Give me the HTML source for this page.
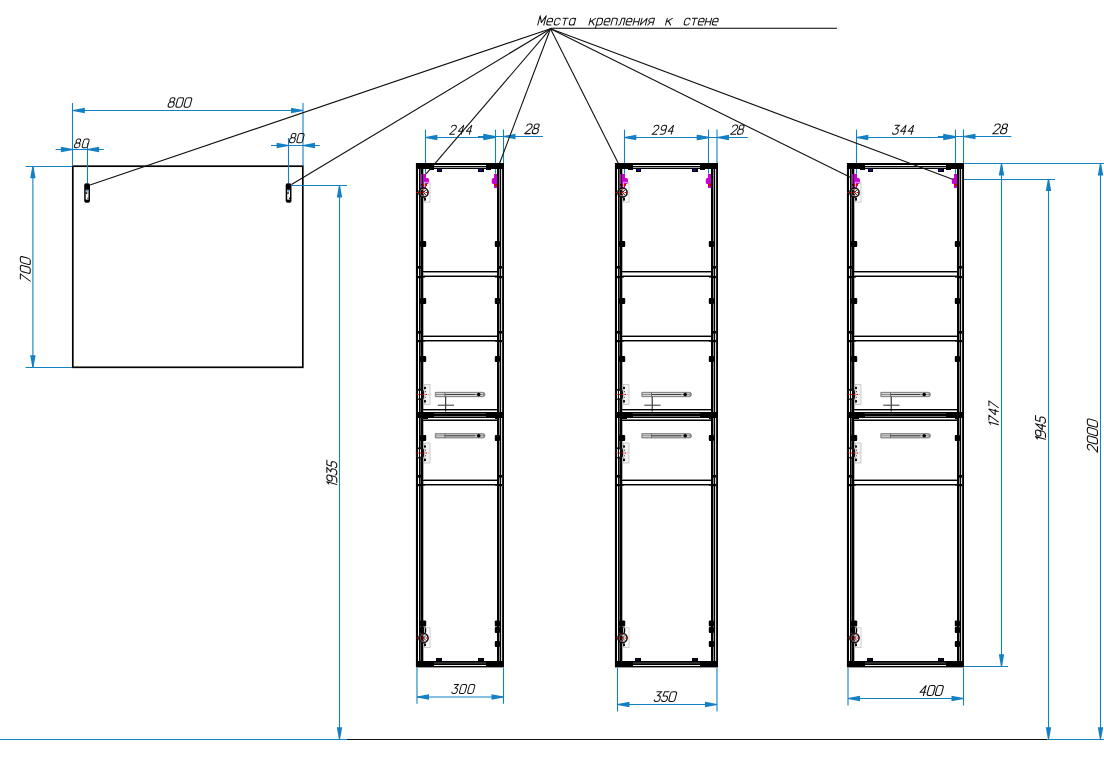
<!DOCTYPE html>
<html><head><meta charset="utf-8"><title>drawing</title>
<style>
html,body{margin:0;padding:0;background:#fff;width:1104px;height:762px;overflow:hidden}
svg{display:block}
.t{font-family:"Liberation Sans",sans-serif;font-style:italic;fill:#1a1a1a}
</style></head><body>
<svg width="1104" height="762" viewBox="0 0 1104 762">
<rect width="1104" height="762" fill="#fff"/>
<line x1="0.00" y1="739.50" x2="347.00" y2="739.50" stroke="#137fc4" stroke-width="1.1"/>
<line x1="347.00" y1="739.50" x2="1047.50" y2="739.50" stroke="#111" stroke-width="1.15"/>
<line x1="1047.50" y1="739.50" x2="1104.00" y2="739.50" stroke="#137fc4" stroke-width="1.1"/>
<rect x="72.8" y="166.2" width="230" height="201.1" fill="none" stroke="#000" stroke-width="1.7"/>
<rect x="84.20" y="183.2" width="5.8" height="19.5" rx="2" fill="#000"/>
<rect x="85.70" y="189.80" width="2.80" height="9.80" fill="#fff"/>
<rect x="86.10" y="190.00" width="1.80" height="1.60" fill="#3a9ad8"/>
<rect x="85.70" y="192.30" width="1.60" height="1.60" fill="#000"/>
<rect x="87.50" y="197.50" width="1.00" height="1.50" fill="#222"/>
<rect x="285.70" y="183.2" width="5.8" height="19.5" rx="2" fill="#000"/>
<rect x="287.20" y="189.80" width="2.80" height="9.80" fill="#fff"/>
<rect x="287.60" y="190.00" width="1.80" height="1.60" fill="#3a9ad8"/>
<rect x="287.20" y="192.30" width="1.60" height="1.60" fill="#000"/>
<rect x="289.00" y="197.50" width="1.00" height="1.50" fill="#222"/>
<line x1="72.50" y1="103.00" x2="72.50" y2="166.00" stroke="#137fc4" stroke-width="1.1"/>
<line x1="303.00" y1="103.00" x2="303.00" y2="166.00" stroke="#137fc4" stroke-width="1.1"/>
<line x1="72.90" y1="110.50" x2="303.00" y2="110.50" stroke="#137fc4" stroke-width="1.1"/>
<polygon points="72.90,109.95 72.90,111.05 84.90,113.20 84.90,107.80" fill="#137fc4"/>
<polygon points="303.00,109.95 303.00,111.05 291.00,113.20 291.00,107.80" fill="#137fc4"/>
<g transform="translate(167.62,107.15) scale(0.9500) skewX(-15)" fill="none" stroke="#111" stroke-width="1.1" stroke-linecap="round" stroke-linejoin="round"><path transform="translate(0.000,0)" d="M2.5,-5.4 H3.4000000000000004 A2.0,2.0 0 0 0 5.4,-7.4 V-8.0 A2.0,2.0 0 0 0 3.4000000000000004,-10 H2.5 A2.0,2.0 0 0 0 0.5,-8.0 V-7.4 A2.0,2.0 0 0 0 2.5,-5.4 Z M2.3,0 H3.6000000000000005 A2.3,2.3 0 0 0 5.9,-2.3 V-3.1000000000000005 A2.3,2.3 0 0 0 3.6000000000000005,-5.4 H2.3 A2.3,2.3 0 0 0 0,-3.1000000000000005 V-2.3 A2.3,2.3 0 0 0 2.3,0 Z"/><path transform="translate(8.334,0)" d="M1.9,0 H4.300000000000001 A1.9,1.9 0 0 0 6.2,-1.9 V-8.1 A1.9,1.9 0 0 0 4.300000000000001,-10 H1.9 A1.9,1.9 0 0 0 0,-8.1 V-1.9 A1.9,1.9 0 0 0 1.9,0 Z"/><path transform="translate(16.968,0)" d="M1.9,0 H4.300000000000001 A1.9,1.9 0 0 0 6.2,-1.9 V-8.1 A1.9,1.9 0 0 0 4.300000000000001,-10 H1.9 A1.9,1.9 0 0 0 0,-8.1 V-1.9 A1.9,1.9 0 0 0 1.9,0 Z"/></g>
<line x1="87.50" y1="143.00" x2="87.50" y2="183.00" stroke="#137fc4" stroke-width="1.1"/>
<line x1="55.60" y1="149.50" x2="103.80" y2="149.50" stroke="#137fc4" stroke-width="1.1"/>
<polygon points="72.90,148.95 72.90,150.05 60.90,152.20 60.90,146.80" fill="#137fc4"/>
<polygon points="87.10,148.95 87.10,150.05 99.10,152.20 99.10,146.80" fill="#137fc4"/>
<g transform="translate(73.98,147.75) scale(0.8700) skewX(-15)" fill="none" stroke="#111" stroke-width="1.1" stroke-linecap="round" stroke-linejoin="round"><path transform="translate(0.000,0)" d="M2.5,-5.4 H3.4000000000000004 A2.0,2.0 0 0 0 5.4,-7.4 V-8.0 A2.0,2.0 0 0 0 3.4000000000000004,-10 H2.5 A2.0,2.0 0 0 0 0.5,-8.0 V-7.4 A2.0,2.0 0 0 0 2.5,-5.4 Z M2.3,0 H3.6000000000000005 A2.3,2.3 0 0 0 5.9,-2.3 V-3.1000000000000005 A2.3,2.3 0 0 0 3.6000000000000005,-5.4 H2.3 A2.3,2.3 0 0 0 0,-3.1000000000000005 V-2.3 A2.3,2.3 0 0 0 2.3,0 Z"/><path transform="translate(8.987,0)" d="M1.9,0 H4.300000000000001 A1.9,1.9 0 0 0 6.2,-1.9 V-8.1 A1.9,1.9 0 0 0 4.300000000000001,-10 H1.9 A1.9,1.9 0 0 0 0,-8.1 V-1.9 A1.9,1.9 0 0 0 1.9,0 Z"/></g>
<line x1="288.50" y1="138.00" x2="288.50" y2="183.00" stroke="#137fc4" stroke-width="1.1"/>
<line x1="271.00" y1="145.50" x2="319.70" y2="145.50" stroke="#137fc4" stroke-width="1.1"/>
<polygon points="288.60,144.95 288.60,146.05 276.60,148.20 276.60,142.80" fill="#137fc4"/>
<polygon points="303.00,144.95 303.00,146.05 315.00,148.20 315.00,142.80" fill="#137fc4"/>
<g transform="translate(289.00,142.65) scale(0.9100) skewX(-15)" fill="none" stroke="#111" stroke-width="1.1" stroke-linecap="round" stroke-linejoin="round"><path transform="translate(0.000,0)" d="M2.5,-5.4 H3.4000000000000004 A2.0,2.0 0 0 0 5.4,-7.4 V-8.0 A2.0,2.0 0 0 0 3.4000000000000004,-10 H2.5 A2.0,2.0 0 0 0 0.5,-8.0 V-7.4 A2.0,2.0 0 0 0 2.5,-5.4 Z M2.3,0 H3.6000000000000005 A2.3,2.3 0 0 0 5.9,-2.3 V-3.1000000000000005 A2.3,2.3 0 0 0 3.6000000000000005,-5.4 H2.3 A2.3,2.3 0 0 0 0,-3.1000000000000005 V-2.3 A2.3,2.3 0 0 0 2.3,0 Z"/><path transform="translate(8.153,0)" d="M1.9,0 H4.300000000000001 A1.9,1.9 0 0 0 6.2,-1.9 V-8.1 A1.9,1.9 0 0 0 4.300000000000001,-10 H1.9 A1.9,1.9 0 0 0 0,-8.1 V-1.9 A1.9,1.9 0 0 0 1.9,0 Z"/></g>
<line x1="25.60" y1="166.50" x2="72.00" y2="166.50" stroke="#137fc4" stroke-width="1.1"/>
<line x1="25.60" y1="367.50" x2="72.00" y2="367.50" stroke="#137fc4" stroke-width="1.1"/>
<line x1="32.90" y1="166.20" x2="32.90" y2="367.30" stroke="#137fc4" stroke-width="1.1"/>
<polygon points="32.35,166.20 33.45,166.20 35.60,178.20 30.20,178.20" fill="#137fc4"/>
<polygon points="32.35,367.30 33.45,367.30 35.60,355.30 30.20,355.30" fill="#137fc4"/>
<g transform="translate(25.30,268.90) rotate(-90)"><g transform="translate(-12.76,4.95) scale(0.9900) skewX(-15)" fill="none" stroke="#111" stroke-width="1.1" stroke-linecap="round" stroke-linejoin="round"><path transform="translate(0.000,0)" d="M0,-10 H5.2 L0.6,0"/><path transform="translate(7.945,0)" d="M1.9,0 H4.300000000000001 A1.9,1.9 0 0 0 6.2,-1.9 V-8.1 A1.9,1.9 0 0 0 4.300000000000001,-10 H1.9 A1.9,1.9 0 0 0 0,-8.1 V-1.9 A1.9,1.9 0 0 0 1.9,0 Z"/><path transform="translate(16.890,0)" d="M1.9,0 H4.300000000000001 A1.9,1.9 0 0 0 6.2,-1.9 V-8.1 A1.9,1.9 0 0 0 4.300000000000001,-10 H1.9 A1.9,1.9 0 0 0 0,-8.1 V-1.9 A1.9,1.9 0 0 0 1.9,0 Z"/></g></g>
<line x1="292.00" y1="185.50" x2="347.00" y2="185.50" stroke="#137fc4" stroke-width="1.1"/>
<line x1="339.50" y1="185.60" x2="339.50" y2="739.30" stroke="#137fc4" stroke-width="1.1"/>
<polygon points="338.95,185.60 340.05,185.60 342.20,197.60 336.80,197.60" fill="#137fc4"/>
<polygon points="338.95,739.30 340.05,739.30 342.20,727.30 336.80,727.30" fill="#137fc4"/>
<g transform="translate(331.80,473.00) rotate(-90)"><g transform="translate(-13.01,4.95) scale(0.9900) skewX(-15)" fill="none" stroke="#111" stroke-width="1.1" stroke-linecap="round" stroke-linejoin="round"><path transform="translate(0.000,0)" d="M1.6,0 V-10 L-0.2,-8.2"/><path transform="translate(3.332,0)" d="M2.3,-4.6 H3.3 A2.3,2.3 0 0 0 5.6,-6.8999999999999995 V-7.7 A2.3,2.3 0 0 0 3.3,-10 H2.3 A2.3,2.3 0 0 0 0,-7.7 V-6.8999999999999995 A2.3,2.3 0 0 0 2.3,-4.6 Z M5.6,-7.0 V-2.3 A2.3,2.3 0 0 1 3.3,0 H0.4"/><path transform="translate(10.663,0)" d="M0.5,-10 H5.5 L2.2,-6.0 H3.3 A2.3,2.3 0 0 1 5.6,-3.7 V-2.3 A2.3,2.3 0 0 1 3.3,0 H2.1 A2.1,2.1 0 0 1 0,-1.6"/><path transform="translate(17.995,0)" d="M5.4,-10 H0.9 L0.5,-5.6 H3.3 A2.3,2.3 0 0 1 5.6,-3.3 V-2.3 A2.3,2.3 0 0 1 3.3,0 H2.1 A2.1,2.1 0 0 1 0,-1.6"/></g></g>
<line x1="425.50" y1="129.60" x2="425.50" y2="173.80" stroke="#137fc4" stroke-width="1.1"/>
<line x1="495.50" y1="129.60" x2="495.50" y2="173.80" stroke="#137fc4" stroke-width="1.1"/>
<line x1="503.5" y1="129.4" x2="503.5" y2="163.5" stroke="#137fc4" stroke-width="1.1"/>
<rect x="416.00" y="163.00" width="2.00" height="504.00" fill="#000"/>
<rect x="419.00" y="163.00" width="1.00" height="504.00" fill="#000"/>
<rect x="420.00" y="163.00" width="1.00" height="504.00" fill="#555"/>
<rect x="421.00" y="163.00" width="2.00" height="504.00" fill="#000"/>
<rect x="423.00" y="163.00" width="1.00" height="504.00" fill="#b0b0b0"/>
<rect x="497.00" y="163.00" width="2.00" height="504.00" fill="#000"/>
<rect x="499.00" y="163.00" width="1.00" height="504.00" fill="#8a8a8a"/>
<rect x="500.00" y="163.00" width="1.00" height="504.00" fill="#000"/>
<rect x="501.00" y="163.00" width="1.00" height="504.00" fill="#d8d8d8"/>
<rect x="502.00" y="163.00" width="1.00" height="504.00" fill="#222"/>
<rect x="503.00" y="163.00" width="1.00" height="504.00" fill="#000"/>
<rect x="415.00" y="163.00" width="1.00" height="504.00" fill="#e8e8e8"/>
<rect x="416.00" y="163.00" width="88.00" height="2.00" fill="#000"/>
<rect x="416.00" y="165.00" width="88.00" height="1.00" fill="#f4f4f4"/>
<rect x="416.00" y="166.00" width="88.00" height="1.00" fill="#000"/>
<rect x="416.00" y="167.00" width="88.00" height="1.00" fill="#a0a0a0"/>
<rect x="416.00" y="168.00" width="88.00" height="1.00" fill="#000"/>
<rect x="416.00" y="163.00" width="18.00" height="6.00" fill="#000"/>
<rect x="486.00" y="163.00" width="18.00" height="6.00" fill="#000"/>
<rect x="429.00" y="169.00" width="5.00" height="1.00" fill="#000"/>
<rect x="486.00" y="169.00" width="5.00" height="1.00" fill="#000"/>
<rect x="437.00" y="168.00" width="5.00" height="4.00" fill="#000"/>
<rect x="438.00" y="169.00" width="3.00" height="2.00" fill="#10108a"/>
<rect x="478.00" y="168.00" width="6.00" height="4.00" fill="#000"/>
<rect x="479.00" y="169.00" width="3.00" height="2.00" fill="#10108a"/>
<rect x="416.00" y="661.00" width="88.00" height="1.00" fill="#000"/>
<rect x="416.00" y="662.00" width="88.00" height="2.00" fill="#2a2a2a"/>
<rect x="416.00" y="664.00" width="88.00" height="1.00" fill="#000"/>
<rect x="416.00" y="665.00" width="88.00" height="1.00" fill="#eee"/>
<rect x="416.00" y="666.00" width="88.00" height="1.00" fill="#000"/>
<rect x="416.00" y="667.00" width="88.00" height="1.00" fill="#999"/>
<rect x="416.00" y="661.00" width="18.00" height="6.00" fill="#000"/>
<rect x="486.00" y="661.00" width="18.00" height="6.00" fill="#000"/>
<rect x="436.00" y="658.00" width="6.00" height="3.00" fill="#000"/>
<rect x="437.00" y="659.00" width="3.00" height="1.00" fill="#10104a"/>
<rect x="478.00" y="658.00" width="6.00" height="3.00" fill="#000"/>
<rect x="479.00" y="659.00" width="3.00" height="1.00" fill="#10104a"/>
<rect x="423.00" y="271.00" width="74.00" height="1.00" fill="#000"/>
<rect x="423.00" y="276.00" width="74.00" height="1.00" fill="#000"/>
<rect x="423.00" y="336.00" width="74.00" height="1.00" fill="#000"/>
<rect x="423.00" y="340.00" width="74.00" height="1.00" fill="#000"/>
<rect x="423.00" y="480.00" width="74.00" height="1.00" fill="#000"/>
<rect x="423.00" y="484.00" width="74.00" height="1.00" fill="#000"/>
<rect x="423.00" y="272.00" width="74.00" height="1.00" fill="#8c8c8c"/>
<rect x="423.00" y="275.00" width="74.00" height="1.00" fill="#8c8c8c"/>
<rect x="423.00" y="335.00" width="74.00" height="1.00" fill="#8c8c8c"/>
<rect x="423.00" y="341.00" width="74.00" height="1.00" fill="#8c8c8c"/>
<rect x="423.00" y="479.00" width="74.00" height="1.00" fill="#8c8c8c"/>
<rect x="423.00" y="485.00" width="74.00" height="1.00" fill="#8c8c8c"/>
<rect x="418.00" y="266.00" width="3.00" height="2.60" fill="#000"/>
<rect x="499.00" y="266.00" width="3.00" height="2.60" fill="#000"/>
<rect x="418.00" y="276.00" width="3.00" height="2.20" fill="#000"/>
<rect x="499.00" y="276.00" width="3.00" height="2.20" fill="#000"/>
<rect x="423.00" y="276.00" width="2.00" height="1.60" fill="#000"/>
<rect x="495.00" y="276.00" width="2.00" height="1.60" fill="#000"/>
<rect x="418.00" y="331.00" width="3.00" height="2.60" fill="#000"/>
<rect x="499.00" y="331.00" width="3.00" height="2.60" fill="#000"/>
<rect x="418.00" y="340.00" width="3.00" height="2.20" fill="#000"/>
<rect x="499.00" y="340.00" width="3.00" height="2.20" fill="#000"/>
<rect x="423.00" y="340.00" width="2.00" height="1.60" fill="#000"/>
<rect x="495.00" y="340.00" width="2.00" height="1.60" fill="#000"/>
<rect x="418.00" y="475.00" width="3.00" height="2.60" fill="#000"/>
<rect x="499.00" y="475.00" width="3.00" height="2.60" fill="#000"/>
<rect x="418.00" y="484.00" width="3.00" height="2.20" fill="#000"/>
<rect x="499.00" y="484.00" width="3.00" height="2.20" fill="#000"/>
<rect x="423.00" y="484.00" width="2.00" height="1.60" fill="#000"/>
<rect x="495.00" y="484.00" width="2.00" height="1.60" fill="#000"/>
<rect x="423.00" y="409.00" width="74.00" height="1.00" fill="#000"/>
<rect x="423.00" y="410.00" width="74.00" height="1.00" fill="#999"/>
<rect x="416.00" y="412.00" width="88.00" height="6.00" fill="#000"/>
<rect x="434.00" y="413.00" width="52.00" height="1.00" fill="#444"/>
<rect x="434.00" y="416.00" width="52.00" height="1.00" fill="#777"/>
<rect x="423.00" y="418.00" width="5.00" height="1.00" fill="#000"/>
<rect x="495.00" y="418.00" width="2.00" height="1.00" fill="#000"/>
<rect x="423.00" y="419.00" width="74.00" height="1.00" fill="#777"/>
<rect x="423.00" y="420.00" width="74.00" height="1.00" fill="#000"/>
<rect x="420" y="241" width="6.2" height="6" rx="1" fill="#000"/>
<rect x="494.8" y="241" width="5.2" height="6" rx="1" fill="#000"/>
<rect x="420" y="298" width="6.2" height="6" rx="1" fill="#000"/>
<rect x="494.8" y="298" width="5.2" height="6" rx="1" fill="#000"/>
<rect x="420" y="356" width="6.2" height="6" rx="1" fill="#000"/>
<rect x="494.8" y="356" width="5.2" height="6" rx="1" fill="#000"/>
<rect x="420" y="435" width="6.2" height="6" rx="1" fill="#000"/>
<rect x="494.8" y="435" width="5.2" height="6" rx="1" fill="#000"/>
<rect x="420" y="620.5" width="6.2" height="6" rx="1" fill="#000"/>
<rect x="494.8" y="620.5" width="5.2" height="6" rx="1" fill="#000"/>
<rect x="420" y="627" width="6.2" height="6" rx="1" fill="#000"/>
<rect x="494.8" y="627" width="5.2" height="6" rx="1" fill="#000"/>
<rect x="494.8" y="641" width="5.2" height="6" rx="1" fill="#000"/>
<rect x="421.00" y="174.00" width="1.00" height="10.00" fill="#c800d0"/>
<rect x="421.00" y="185.50" width="1.00" height="2.50" fill="#c800d0"/>
<rect x="423.00" y="174.00" width="3.00" height="14.00" fill="#c800d0"/>
<path d="M426,178 h1.2 a1.8,1.8 0 0 1 1.8,1.8 v2.4 a1.8,1.8 0 0 1 -1.8,1.8 h-1.2 z" fill="#c800d0"/>
<rect x="423.00" y="184.00" width="4.00" height="2.00" fill="#e00000"/>
<rect x="494.00" y="174.00" width="3.00" height="14.00" fill="#c800d0"/>
<path d="M494,178 h-0.6 a1.6,1.6 0 0 0 -1.6,1.6 v2.8 a1.6,1.6 0 0 0 1.6,1.6 h0.6 z" fill="#c800d0"/>
<rect x="494.00" y="184.00" width="3.00" height="2.00" fill="#e00000"/>
<rect x="424.50" y="182.30" width="5.5" height="19.8" fill="none" stroke="#c8c8c8" stroke-width="0.9"/>
<circle cx="423.50" cy="192.50" r="4.6" fill="none" stroke="#111" stroke-width="1.6"/>
<path d="M420.60,189.60 L426.40,195.40 M426.40,189.60 L420.60,195.40" stroke="#222" stroke-width="0.9"/>
<line x1="416.5" y1="192.5" x2="429" y2="192.5" stroke="#e00000" stroke-width="1.2" stroke-dasharray="1.6 1.4"/>
<line x1="423.5" y1="188.0" x2="423.5" y2="197.0" stroke="#b00000" stroke-width="1.0" stroke-dasharray="1.5 1.5"/>
<rect x="421.50" y="189.00" width="1.00" height="1.00" fill="#ddd"/>
<rect x="421.50" y="195.00" width="1.00" height="1.00" fill="#ddd"/>
<rect x="424.50" y="189.00" width="1.00" height="1.00" fill="#ddd"/>
<rect x="424.50" y="195.00" width="1.00" height="1.00" fill="#ddd"/>
<rect x="424.00" y="198.00" width="2.00" height="2.60" fill="#111"/>
<rect x="424.50" y="627.80" width="5.5" height="19.8" fill="none" stroke="#c8c8c8" stroke-width="0.9"/>
<circle cx="423.50" cy="638.00" r="4.6" fill="none" stroke="#111" stroke-width="1.6"/>
<path d="M420.60,635.10 L426.40,640.90 M426.40,635.10 L420.60,640.90" stroke="#222" stroke-width="0.9"/>
<line x1="416.5" y1="638.0" x2="429" y2="638.0" stroke="#e00000" stroke-width="1.2" stroke-dasharray="1.6 1.4"/>
<line x1="423.5" y1="633.5" x2="423.5" y2="642.5" stroke="#b00000" stroke-width="1.0" stroke-dasharray="1.5 1.5"/>
<rect x="421.50" y="634.50" width="1.00" height="1.00" fill="#ddd"/>
<rect x="421.50" y="640.50" width="1.00" height="1.00" fill="#ddd"/>
<rect x="424.50" y="634.50" width="1.00" height="1.00" fill="#ddd"/>
<rect x="424.50" y="640.50" width="1.00" height="1.00" fill="#ddd"/>
<rect x="424.00" y="643.50" width="2.00" height="2.60" fill="#111"/>
<rect x="424.40" y="384.50" width="5.6" height="20" fill="#f2f2f2" stroke="#c8c8c8" stroke-width="0.9"/>
<rect x="424.00" y="386.90" width="2.00" height="2.20" fill="#111"/>
<rect x="424.00" y="400.10" width="2.00" height="2.40" fill="#111"/>
<rect x="425.00" y="391.20" width="1.00" height="1.00" fill="#333"/>
<rect x="425.00" y="396.80" width="1.00" height="1.00" fill="#555"/>
<rect x="418.00" y="391.00" width="1.00" height="7.00" fill="#fff"/>
<rect x="420.00" y="391.00" width="1.00" height="7.00" fill="#e8e8e8"/>
<rect x="416.60" y="389.50" width="6.8" height="10" rx="3.2" fill="none" stroke="#111" stroke-width="1.3"/>
<line x1="417" y1="394.5" x2="428.5" y2="394.5" stroke="#d00000" stroke-width="1.2" stroke-dasharray="1.6 1.2"/>
<rect x="424.40" y="443.00" width="5.6" height="20" fill="#f2f2f2" stroke="#c8c8c8" stroke-width="0.9"/>
<rect x="424.00" y="445.40" width="2.00" height="2.20" fill="#111"/>
<rect x="424.00" y="458.60" width="2.00" height="2.40" fill="#111"/>
<rect x="425.00" y="449.70" width="1.00" height="1.00" fill="#333"/>
<rect x="425.00" y="455.30" width="1.00" height="1.00" fill="#555"/>
<rect x="418.00" y="449.50" width="1.00" height="7.00" fill="#fff"/>
<rect x="420.00" y="449.50" width="1.00" height="7.00" fill="#e8e8e8"/>
<rect x="416.60" y="448.00" width="6.8" height="10" rx="3.2" fill="none" stroke="#111" stroke-width="1.3"/>
<line x1="417" y1="453.0" x2="428.5" y2="453.0" stroke="#d00000" stroke-width="1.2" stroke-dasharray="1.6 1.2"/>
<path d="M435.30,392.30 h47.5 a2.2,2.2 0 0 1 0,4.4 h-47.5 z" fill="#8c8c8c" stroke="#707070" stroke-width="0.7"/>
<rect x="436.10" y="393.10" width="47" height="0.9" fill="#e0e0e0"/>
<rect x="436.10" y="395.00" width="47" height="0.9" fill="#e0e0e0"/>
<rect x="444.80" y="394.00" width="30" height="1" fill="#444"/>
<rect x="444.50" y="392.30" width="0.9" height="4.4" fill="#666"/>
<circle cx="478.70" cy="394.50" r="1.8" fill="#000"/>
<path d="M435.30,433.60 h47.5 a2.2,2.2 0 0 1 0,4.4 h-47.5 z" fill="#8c8c8c" stroke="#707070" stroke-width="0.7"/>
<rect x="436.10" y="434.40" width="47" height="0.9" fill="#e0e0e0"/>
<rect x="436.10" y="436.30" width="47" height="0.9" fill="#e0e0e0"/>
<rect x="444.80" y="435.30" width="30" height="1" fill="#444"/>
<rect x="444.50" y="433.60" width="0.9" height="4.4" fill="#666"/>
<circle cx="478.70" cy="435.80" r="1.8" fill="#000"/>
<line x1="445.70" y1="396.70" x2="445.70" y2="411.50" stroke="#111" stroke-width="1.0"/>
<line x1="437.80" y1="405.20" x2="454.00" y2="405.20" stroke="#444" stroke-width="1.1"/>
<line x1="425.30" y1="137.50" x2="495.40" y2="137.50" stroke="#137fc4" stroke-width="1.1"/>
<polygon points="425.30,136.95 425.30,138.05 437.30,140.20 437.30,134.80" fill="#137fc4"/>
<polygon points="495.40,136.95 495.40,138.05 483.40,140.20 483.40,134.80" fill="#137fc4"/>
<line x1="477.90" y1="136.50" x2="542.90" y2="136.50" stroke="#137fc4" stroke-width="1.1"/>
<polygon points="495.40,135.95 495.40,137.05 483.40,139.20 483.40,133.80" fill="#137fc4"/>
<polygon points="503.50,135.95 503.50,137.05 515.50,139.20 515.50,133.80" fill="#137fc4"/>
<g transform="translate(449.49,134.25) scale(0.8900) skewX(-15)" fill="none" stroke="#111" stroke-width="1.1" stroke-linecap="round" stroke-linejoin="round"><path transform="translate(0.000,0)" d="M0.1,-8.0 A2.3,2.3 0 0 1 2.4,-10 H3.3 A2.3,2.3 0 0 1 5.6,-7.7 V-7.0 A2.6,2.6 0 0 1 4.9,-5.4 L0,0 H5.6"/><path transform="translate(9.018,0)" d="M4.3,0 V-10 L0,-3.3 H5.6"/><path transform="translate(18.037,0)" d="M4.3,0 V-10 L0,-3.3 H5.6"/></g>
<g transform="translate(524.63,133.65) scale(0.9700) skewX(-15)" fill="none" stroke="#111" stroke-width="1.1" stroke-linecap="round" stroke-linejoin="round"><path transform="translate(0.000,0)" d="M0.1,-8.0 A2.3,2.3 0 0 1 2.4,-10 H3.3 A2.3,2.3 0 0 1 5.6,-7.7 V-7.0 A2.6,2.6 0 0 1 4.9,-5.4 L0,0 H5.6"/><path transform="translate(7.331,0)" d="M2.5,-5.4 H3.4000000000000004 A2.0,2.0 0 0 0 5.4,-7.4 V-8.0 A2.0,2.0 0 0 0 3.4000000000000004,-10 H2.5 A2.0,2.0 0 0 0 0.5,-8.0 V-7.4 A2.0,2.0 0 0 0 2.5,-5.4 Z M2.3,0 H3.6000000000000005 A2.3,2.3 0 0 0 5.9,-2.3 V-3.1000000000000005 A2.3,2.3 0 0 0 3.6000000000000005,-5.4 H2.3 A2.3,2.3 0 0 0 0,-3.1000000000000005 V-2.3 A2.3,2.3 0 0 0 2.3,0 Z"/></g>
<line x1="417.00" y1="668.00" x2="417.00" y2="703.80" stroke="#137fc4" stroke-width="1.1"/>
<line x1="503.50" y1="668.00" x2="503.50" y2="703.80" stroke="#137fc4" stroke-width="1.1"/>
<line x1="417.00" y1="697.00" x2="503.50" y2="697.00" stroke="#137fc4" stroke-width="1.1"/>
<polygon points="417.00,696.45 417.00,697.55 429.00,699.70 429.00,694.30" fill="#137fc4"/>
<polygon points="503.50,696.45 503.50,697.55 491.50,699.70 491.50,694.30" fill="#137fc4"/>
<g transform="translate(451.49,693.45) scale(0.8900) skewX(-15)" fill="none" stroke="#111" stroke-width="1.1" stroke-linecap="round" stroke-linejoin="round"><path transform="translate(0.000,0)" d="M0.5,-10 H5.5 L2.2,-6.0 H3.3 A2.3,2.3 0 0 1 5.6,-3.7 V-2.3 A2.3,2.3 0 0 1 3.3,0 H2.1 A2.1,2.1 0 0 1 0,-1.6"/><path transform="translate(8.587,0)" d="M1.9,0 H4.300000000000001 A1.9,1.9 0 0 0 6.2,-1.9 V-8.1 A1.9,1.9 0 0 0 4.300000000000001,-10 H1.9 A1.9,1.9 0 0 0 0,-8.1 V-1.9 A1.9,1.9 0 0 0 1.9,0 Z"/><path transform="translate(17.774,0)" d="M1.9,0 H4.300000000000001 A1.9,1.9 0 0 0 6.2,-1.9 V-8.1 A1.9,1.9 0 0 0 4.300000000000001,-10 H1.9 A1.9,1.9 0 0 0 0,-8.1 V-1.9 A1.9,1.9 0 0 0 1.9,0 Z"/></g>
<line x1="624.50" y1="129.60" x2="624.50" y2="173.80" stroke="#137fc4" stroke-width="1.1"/>
<line x1="708.50" y1="129.60" x2="708.50" y2="173.80" stroke="#137fc4" stroke-width="1.1"/>
<line x1="717.0" y1="129.4" x2="717.0" y2="163.5" stroke="#137fc4" stroke-width="1.1"/>
<rect x="615.00" y="163.00" width="2.00" height="504.00" fill="#000"/>
<rect x="618.00" y="163.00" width="1.00" height="504.00" fill="#000"/>
<rect x="619.00" y="163.00" width="1.00" height="504.00" fill="#555"/>
<rect x="620.00" y="163.00" width="2.00" height="504.00" fill="#000"/>
<rect x="622.00" y="163.00" width="1.00" height="504.00" fill="#b0b0b0"/>
<rect x="711.00" y="163.00" width="2.00" height="504.00" fill="#000"/>
<rect x="713.00" y="163.00" width="1.00" height="504.00" fill="#8a8a8a"/>
<rect x="714.00" y="163.00" width="1.00" height="504.00" fill="#000"/>
<rect x="715.00" y="163.00" width="1.00" height="504.00" fill="#d8d8d8"/>
<rect x="716.00" y="163.00" width="1.00" height="504.00" fill="#222"/>
<rect x="717.00" y="163.00" width="1.00" height="504.00" fill="#000"/>
<rect x="614.00" y="163.00" width="1.00" height="504.00" fill="#e8e8e8"/>
<rect x="615.00" y="163.00" width="103.00" height="2.00" fill="#000"/>
<rect x="615.00" y="165.00" width="103.00" height="1.00" fill="#f4f4f4"/>
<rect x="615.00" y="166.00" width="103.00" height="1.00" fill="#000"/>
<rect x="615.00" y="167.00" width="103.00" height="1.00" fill="#a0a0a0"/>
<rect x="615.00" y="168.00" width="103.00" height="1.00" fill="#000"/>
<rect x="615.00" y="163.00" width="18.00" height="6.00" fill="#000"/>
<rect x="700.00" y="163.00" width="18.00" height="6.00" fill="#000"/>
<rect x="628.00" y="169.00" width="5.00" height="1.00" fill="#000"/>
<rect x="700.00" y="169.00" width="5.00" height="1.00" fill="#000"/>
<rect x="636.00" y="168.00" width="5.00" height="4.00" fill="#000"/>
<rect x="637.00" y="169.00" width="3.00" height="2.00" fill="#10108a"/>
<rect x="692.00" y="168.00" width="6.00" height="4.00" fill="#000"/>
<rect x="693.00" y="169.00" width="3.00" height="2.00" fill="#10108a"/>
<rect x="615.00" y="661.00" width="103.00" height="1.00" fill="#000"/>
<rect x="615.00" y="662.00" width="103.00" height="2.00" fill="#2a2a2a"/>
<rect x="615.00" y="664.00" width="103.00" height="1.00" fill="#000"/>
<rect x="615.00" y="665.00" width="103.00" height="1.00" fill="#eee"/>
<rect x="615.00" y="666.00" width="103.00" height="1.00" fill="#000"/>
<rect x="615.00" y="667.00" width="103.00" height="1.00" fill="#999"/>
<rect x="615.00" y="661.00" width="18.00" height="6.00" fill="#000"/>
<rect x="700.00" y="661.00" width="18.00" height="6.00" fill="#000"/>
<rect x="635.00" y="658.00" width="6.00" height="3.00" fill="#000"/>
<rect x="636.00" y="659.00" width="3.00" height="1.00" fill="#10104a"/>
<rect x="692.00" y="658.00" width="6.00" height="3.00" fill="#000"/>
<rect x="693.00" y="659.00" width="3.00" height="1.00" fill="#10104a"/>
<rect x="622.00" y="271.00" width="89.00" height="1.00" fill="#000"/>
<rect x="622.00" y="276.00" width="89.00" height="1.00" fill="#000"/>
<rect x="622.00" y="336.00" width="89.00" height="1.00" fill="#000"/>
<rect x="622.00" y="340.00" width="89.00" height="1.00" fill="#000"/>
<rect x="622.00" y="480.00" width="89.00" height="1.00" fill="#000"/>
<rect x="622.00" y="484.00" width="89.00" height="1.00" fill="#000"/>
<rect x="622.00" y="272.00" width="89.00" height="1.00" fill="#8c8c8c"/>
<rect x="622.00" y="275.00" width="89.00" height="1.00" fill="#8c8c8c"/>
<rect x="622.00" y="335.00" width="89.00" height="1.00" fill="#8c8c8c"/>
<rect x="622.00" y="341.00" width="89.00" height="1.00" fill="#8c8c8c"/>
<rect x="622.00" y="479.00" width="89.00" height="1.00" fill="#8c8c8c"/>
<rect x="622.00" y="485.00" width="89.00" height="1.00" fill="#8c8c8c"/>
<rect x="617.00" y="266.00" width="3.00" height="2.60" fill="#000"/>
<rect x="713.00" y="266.00" width="3.00" height="2.60" fill="#000"/>
<rect x="617.00" y="276.00" width="3.00" height="2.20" fill="#000"/>
<rect x="713.00" y="276.00" width="3.00" height="2.20" fill="#000"/>
<rect x="622.00" y="276.00" width="2.00" height="1.60" fill="#000"/>
<rect x="709.00" y="276.00" width="2.00" height="1.60" fill="#000"/>
<rect x="617.00" y="331.00" width="3.00" height="2.60" fill="#000"/>
<rect x="713.00" y="331.00" width="3.00" height="2.60" fill="#000"/>
<rect x="617.00" y="340.00" width="3.00" height="2.20" fill="#000"/>
<rect x="713.00" y="340.00" width="3.00" height="2.20" fill="#000"/>
<rect x="622.00" y="340.00" width="2.00" height="1.60" fill="#000"/>
<rect x="709.00" y="340.00" width="2.00" height="1.60" fill="#000"/>
<rect x="617.00" y="475.00" width="3.00" height="2.60" fill="#000"/>
<rect x="713.00" y="475.00" width="3.00" height="2.60" fill="#000"/>
<rect x="617.00" y="484.00" width="3.00" height="2.20" fill="#000"/>
<rect x="713.00" y="484.00" width="3.00" height="2.20" fill="#000"/>
<rect x="622.00" y="484.00" width="2.00" height="1.60" fill="#000"/>
<rect x="709.00" y="484.00" width="2.00" height="1.60" fill="#000"/>
<rect x="622.00" y="409.00" width="89.00" height="1.00" fill="#000"/>
<rect x="622.00" y="410.00" width="89.00" height="1.00" fill="#999"/>
<rect x="615.00" y="412.00" width="103.00" height="6.00" fill="#000"/>
<rect x="633.00" y="413.00" width="67.00" height="1.00" fill="#444"/>
<rect x="633.00" y="416.00" width="67.00" height="1.00" fill="#777"/>
<rect x="622.00" y="418.00" width="5.00" height="1.00" fill="#000"/>
<rect x="709.00" y="418.00" width="2.00" height="1.00" fill="#000"/>
<rect x="622.00" y="419.00" width="89.00" height="1.00" fill="#777"/>
<rect x="622.00" y="420.00" width="89.00" height="1.00" fill="#000"/>
<rect x="619" y="241" width="6.2" height="6" rx="1" fill="#000"/>
<rect x="708.8" y="241" width="5.2" height="6" rx="1" fill="#000"/>
<rect x="619" y="298" width="6.2" height="6" rx="1" fill="#000"/>
<rect x="708.8" y="298" width="5.2" height="6" rx="1" fill="#000"/>
<rect x="619" y="356" width="6.2" height="6" rx="1" fill="#000"/>
<rect x="708.8" y="356" width="5.2" height="6" rx="1" fill="#000"/>
<rect x="619" y="435" width="6.2" height="6" rx="1" fill="#000"/>
<rect x="708.8" y="435" width="5.2" height="6" rx="1" fill="#000"/>
<rect x="619" y="620.5" width="6.2" height="6" rx="1" fill="#000"/>
<rect x="708.8" y="620.5" width="5.2" height="6" rx="1" fill="#000"/>
<rect x="619" y="627" width="6.2" height="6" rx="1" fill="#000"/>
<rect x="708.8" y="627" width="5.2" height="6" rx="1" fill="#000"/>
<rect x="708.8" y="641" width="5.2" height="6" rx="1" fill="#000"/>
<rect x="620.00" y="174.00" width="1.00" height="10.00" fill="#c800d0"/>
<rect x="620.00" y="185.50" width="1.00" height="2.50" fill="#c800d0"/>
<rect x="622.00" y="174.00" width="3.00" height="14.00" fill="#c800d0"/>
<path d="M625,178 h1.2 a1.8,1.8 0 0 1 1.8,1.8 v2.4 a1.8,1.8 0 0 1 -1.8,1.8 h-1.2 z" fill="#c800d0"/>
<rect x="622.00" y="184.00" width="4.00" height="2.00" fill="#e00000"/>
<rect x="708.00" y="174.00" width="3.00" height="14.00" fill="#c800d0"/>
<path d="M708,178 h-0.6 a1.6,1.6 0 0 0 -1.6,1.6 v2.8 a1.6,1.6 0 0 0 1.6,1.6 h0.6 z" fill="#c800d0"/>
<rect x="708.00" y="184.00" width="3.00" height="2.00" fill="#e00000"/>
<rect x="623.50" y="182.30" width="5.5" height="19.8" fill="none" stroke="#c8c8c8" stroke-width="0.9"/>
<circle cx="622.50" cy="192.50" r="4.6" fill="none" stroke="#111" stroke-width="1.6"/>
<path d="M619.60,189.60 L625.40,195.40 M625.40,189.60 L619.60,195.40" stroke="#222" stroke-width="0.9"/>
<line x1="615.5" y1="192.5" x2="628" y2="192.5" stroke="#e00000" stroke-width="1.2" stroke-dasharray="1.6 1.4"/>
<line x1="622.5" y1="188.0" x2="622.5" y2="197.0" stroke="#b00000" stroke-width="1.0" stroke-dasharray="1.5 1.5"/>
<rect x="620.50" y="189.00" width="1.00" height="1.00" fill="#ddd"/>
<rect x="620.50" y="195.00" width="1.00" height="1.00" fill="#ddd"/>
<rect x="623.50" y="189.00" width="1.00" height="1.00" fill="#ddd"/>
<rect x="623.50" y="195.00" width="1.00" height="1.00" fill="#ddd"/>
<rect x="623.00" y="198.00" width="2.00" height="2.60" fill="#111"/>
<rect x="623.50" y="627.80" width="5.5" height="19.8" fill="none" stroke="#c8c8c8" stroke-width="0.9"/>
<circle cx="622.50" cy="638.00" r="4.6" fill="none" stroke="#111" stroke-width="1.6"/>
<path d="M619.60,635.10 L625.40,640.90 M625.40,635.10 L619.60,640.90" stroke="#222" stroke-width="0.9"/>
<line x1="615.5" y1="638.0" x2="628" y2="638.0" stroke="#e00000" stroke-width="1.2" stroke-dasharray="1.6 1.4"/>
<line x1="622.5" y1="633.5" x2="622.5" y2="642.5" stroke="#b00000" stroke-width="1.0" stroke-dasharray="1.5 1.5"/>
<rect x="620.50" y="634.50" width="1.00" height="1.00" fill="#ddd"/>
<rect x="620.50" y="640.50" width="1.00" height="1.00" fill="#ddd"/>
<rect x="623.50" y="634.50" width="1.00" height="1.00" fill="#ddd"/>
<rect x="623.50" y="640.50" width="1.00" height="1.00" fill="#ddd"/>
<rect x="623.00" y="643.50" width="2.00" height="2.60" fill="#111"/>
<rect x="623.40" y="384.50" width="5.6" height="20" fill="#f2f2f2" stroke="#c8c8c8" stroke-width="0.9"/>
<rect x="623.00" y="386.90" width="2.00" height="2.20" fill="#111"/>
<rect x="623.00" y="400.10" width="2.00" height="2.40" fill="#111"/>
<rect x="624.00" y="391.20" width="1.00" height="1.00" fill="#333"/>
<rect x="624.00" y="396.80" width="1.00" height="1.00" fill="#555"/>
<rect x="617.00" y="391.00" width="1.00" height="7.00" fill="#fff"/>
<rect x="619.00" y="391.00" width="1.00" height="7.00" fill="#e8e8e8"/>
<rect x="615.60" y="389.50" width="6.8" height="10" rx="3.2" fill="none" stroke="#111" stroke-width="1.3"/>
<line x1="616" y1="394.5" x2="627.5" y2="394.5" stroke="#d00000" stroke-width="1.2" stroke-dasharray="1.6 1.2"/>
<rect x="623.40" y="443.00" width="5.6" height="20" fill="#f2f2f2" stroke="#c8c8c8" stroke-width="0.9"/>
<rect x="623.00" y="445.40" width="2.00" height="2.20" fill="#111"/>
<rect x="623.00" y="458.60" width="2.00" height="2.40" fill="#111"/>
<rect x="624.00" y="449.70" width="1.00" height="1.00" fill="#333"/>
<rect x="624.00" y="455.30" width="1.00" height="1.00" fill="#555"/>
<rect x="617.00" y="449.50" width="1.00" height="7.00" fill="#fff"/>
<rect x="619.00" y="449.50" width="1.00" height="7.00" fill="#e8e8e8"/>
<rect x="615.60" y="448.00" width="6.8" height="10" rx="3.2" fill="none" stroke="#111" stroke-width="1.3"/>
<line x1="616" y1="453.0" x2="627.5" y2="453.0" stroke="#d00000" stroke-width="1.2" stroke-dasharray="1.6 1.2"/>
<path d="M641.80,392.30 h47.5 a2.2,2.2 0 0 1 0,4.4 h-47.5 z" fill="#8c8c8c" stroke="#707070" stroke-width="0.7"/>
<rect x="642.60" y="393.10" width="47" height="0.9" fill="#e0e0e0"/>
<rect x="642.60" y="395.00" width="47" height="0.9" fill="#e0e0e0"/>
<rect x="651.30" y="394.00" width="30" height="1" fill="#444"/>
<rect x="651.00" y="392.30" width="0.9" height="4.4" fill="#666"/>
<circle cx="685.20" cy="394.50" r="1.8" fill="#000"/>
<path d="M641.80,433.60 h47.5 a2.2,2.2 0 0 1 0,4.4 h-47.5 z" fill="#8c8c8c" stroke="#707070" stroke-width="0.7"/>
<rect x="642.60" y="434.40" width="47" height="0.9" fill="#e0e0e0"/>
<rect x="642.60" y="436.30" width="47" height="0.9" fill="#e0e0e0"/>
<rect x="651.30" y="435.30" width="30" height="1" fill="#444"/>
<rect x="651.00" y="433.60" width="0.9" height="4.4" fill="#666"/>
<circle cx="685.20" cy="435.80" r="1.8" fill="#000"/>
<line x1="652.20" y1="396.70" x2="652.20" y2="411.50" stroke="#111" stroke-width="1.0"/>
<line x1="644.30" y1="405.20" x2="660.50" y2="405.20" stroke="#444" stroke-width="1.1"/>
<line x1="624.30" y1="137.50" x2="708.80" y2="137.50" stroke="#137fc4" stroke-width="1.1"/>
<polygon points="624.30,136.95 624.30,138.05 636.30,140.20 636.30,134.80" fill="#137fc4"/>
<polygon points="708.80,136.95 708.80,138.05 696.80,140.20 696.80,134.80" fill="#137fc4"/>
<line x1="691.30" y1="137.50" x2="747.70" y2="137.50" stroke="#137fc4" stroke-width="1.1"/>
<polygon points="708.80,136.95 708.80,138.05 696.80,140.20 696.80,134.80" fill="#137fc4"/>
<polygon points="717.00,136.95 717.00,138.05 729.00,140.20 729.00,134.80" fill="#137fc4"/>
<g transform="translate(651.99,134.25) scale(0.8900) skewX(-15)" fill="none" stroke="#111" stroke-width="1.1" stroke-linecap="round" stroke-linejoin="round"><path transform="translate(0.000,0)" d="M0.1,-8.0 A2.3,2.3 0 0 1 2.4,-10 H3.3 A2.3,2.3 0 0 1 5.6,-7.7 V-7.0 A2.6,2.6 0 0 1 4.9,-5.4 L0,0 H5.6"/><path transform="translate(8.625,0)" d="M2.3,-4.6 H3.3 A2.3,2.3 0 0 0 5.6,-6.8999999999999995 V-7.7 A2.3,2.3 0 0 0 3.3,-10 H2.3 A2.3,2.3 0 0 0 0,-7.7 V-6.8999999999999995 A2.3,2.3 0 0 0 2.3,-4.6 Z M5.6,-7.0 V-2.3 A2.3,2.3 0 0 1 3.3,0 H0.4"/><path transform="translate(17.250,0)" d="M4.3,0 V-10 L0,-3.3 H5.6"/></g>
<g transform="translate(730.51,134.25) scale(0.9200) skewX(-15)" fill="none" stroke="#111" stroke-width="1.1" stroke-linecap="round" stroke-linejoin="round"><path transform="translate(0.000,0)" d="M0.1,-8.0 A2.3,2.3 0 0 1 2.4,-10 H3.3 A2.3,2.3 0 0 1 5.6,-7.7 V-7.0 A2.6,2.6 0 0 1 4.9,-5.4 L0,0 H5.6"/><path transform="translate(7.060,0)" d="M2.5,-5.4 H3.4000000000000004 A2.0,2.0 0 0 0 5.4,-7.4 V-8.0 A2.0,2.0 0 0 0 3.4000000000000004,-10 H2.5 A2.0,2.0 0 0 0 0.5,-8.0 V-7.4 A2.0,2.0 0 0 0 2.5,-5.4 Z M2.3,0 H3.6000000000000005 A2.3,2.3 0 0 0 5.9,-2.3 V-3.1000000000000005 A2.3,2.3 0 0 0 3.6000000000000005,-5.4 H2.3 A2.3,2.3 0 0 0 0,-3.1000000000000005 V-2.3 A2.3,2.3 0 0 0 2.3,0 Z"/></g>
<line x1="617.50" y1="668.00" x2="617.50" y2="711.50" stroke="#137fc4" stroke-width="1.1"/>
<line x1="717.00" y1="668.00" x2="717.00" y2="711.50" stroke="#137fc4" stroke-width="1.1"/>
<line x1="617.50" y1="704.50" x2="717.00" y2="704.50" stroke="#137fc4" stroke-width="1.1"/>
<polygon points="617.50,703.95 617.50,705.05 629.50,707.20 629.50,701.80" fill="#137fc4"/>
<polygon points="717.00,703.95 717.00,705.05 705.00,707.20 705.00,701.80" fill="#137fc4"/>
<g transform="translate(653.83,701.45) scale(0.9700) skewX(-15)" fill="none" stroke="#111" stroke-width="1.1" stroke-linecap="round" stroke-linejoin="round"><path transform="translate(0.000,0)" d="M0.5,-10 H5.5 L2.2,-6.0 H3.3 A2.3,2.3 0 0 1 5.6,-3.7 V-2.3 A2.3,2.3 0 0 1 3.3,0 H2.1 A2.1,2.1 0 0 1 0,-1.6"/><path transform="translate(7.536,0)" d="M5.4,-10 H0.9 L0.5,-5.6 H3.3 A2.3,2.3 0 0 1 5.6,-3.3 V-2.3 A2.3,2.3 0 0 1 3.3,0 H2.1 A2.1,2.1 0 0 1 0,-1.6"/><path transform="translate(15.073,0)" d="M1.9,0 H4.300000000000001 A1.9,1.9 0 0 0 6.2,-1.9 V-8.1 A1.9,1.9 0 0 0 4.300000000000001,-10 H1.9 A1.9,1.9 0 0 0 0,-8.1 V-1.9 A1.9,1.9 0 0 0 1.9,0 Z"/></g>
<line x1="856.50" y1="129.60" x2="856.50" y2="173.80" stroke="#137fc4" stroke-width="1.1"/>
<line x1="955.50" y1="129.60" x2="955.50" y2="173.80" stroke="#137fc4" stroke-width="1.1"/>
<line x1="963.5" y1="129.4" x2="963.5" y2="163.5" stroke="#137fc4" stroke-width="1.1"/>
<rect x="847.00" y="163.00" width="2.00" height="504.00" fill="#000"/>
<rect x="850.00" y="163.00" width="1.00" height="504.00" fill="#000"/>
<rect x="851.00" y="163.00" width="1.00" height="504.00" fill="#555"/>
<rect x="852.00" y="163.00" width="2.00" height="504.00" fill="#000"/>
<rect x="854.00" y="163.00" width="1.00" height="504.00" fill="#b0b0b0"/>
<rect x="957.00" y="163.00" width="2.00" height="504.00" fill="#000"/>
<rect x="959.00" y="163.00" width="1.00" height="504.00" fill="#8a8a8a"/>
<rect x="960.00" y="163.00" width="1.00" height="504.00" fill="#000"/>
<rect x="961.00" y="163.00" width="1.00" height="504.00" fill="#d8d8d8"/>
<rect x="962.00" y="163.00" width="1.00" height="504.00" fill="#222"/>
<rect x="963.00" y="163.00" width="1.00" height="504.00" fill="#000"/>
<rect x="846.00" y="163.00" width="1.00" height="504.00" fill="#e8e8e8"/>
<rect x="847.00" y="163.00" width="117.00" height="2.00" fill="#000"/>
<rect x="847.00" y="165.00" width="117.00" height="1.00" fill="#f4f4f4"/>
<rect x="847.00" y="166.00" width="117.00" height="1.00" fill="#000"/>
<rect x="847.00" y="167.00" width="117.00" height="1.00" fill="#a0a0a0"/>
<rect x="847.00" y="168.00" width="117.00" height="1.00" fill="#000"/>
<rect x="847.00" y="163.00" width="18.00" height="6.00" fill="#000"/>
<rect x="946.00" y="163.00" width="18.00" height="6.00" fill="#000"/>
<rect x="860.00" y="169.00" width="5.00" height="1.00" fill="#000"/>
<rect x="946.00" y="169.00" width="5.00" height="1.00" fill="#000"/>
<rect x="868.00" y="168.00" width="5.00" height="4.00" fill="#000"/>
<rect x="869.00" y="169.00" width="3.00" height="2.00" fill="#10108a"/>
<rect x="938.00" y="168.00" width="6.00" height="4.00" fill="#000"/>
<rect x="939.00" y="169.00" width="3.00" height="2.00" fill="#10108a"/>
<rect x="847.00" y="661.00" width="117.00" height="1.00" fill="#000"/>
<rect x="847.00" y="662.00" width="117.00" height="2.00" fill="#2a2a2a"/>
<rect x="847.00" y="664.00" width="117.00" height="1.00" fill="#000"/>
<rect x="847.00" y="665.00" width="117.00" height="1.00" fill="#eee"/>
<rect x="847.00" y="666.00" width="117.00" height="1.00" fill="#000"/>
<rect x="847.00" y="667.00" width="117.00" height="1.00" fill="#999"/>
<rect x="847.00" y="661.00" width="18.00" height="6.00" fill="#000"/>
<rect x="946.00" y="661.00" width="18.00" height="6.00" fill="#000"/>
<rect x="867.00" y="658.00" width="6.00" height="3.00" fill="#000"/>
<rect x="868.00" y="659.00" width="3.00" height="1.00" fill="#10104a"/>
<rect x="938.00" y="658.00" width="6.00" height="3.00" fill="#000"/>
<rect x="939.00" y="659.00" width="3.00" height="1.00" fill="#10104a"/>
<rect x="854.00" y="271.00" width="103.00" height="1.00" fill="#000"/>
<rect x="854.00" y="276.00" width="103.00" height="1.00" fill="#000"/>
<rect x="854.00" y="336.00" width="103.00" height="1.00" fill="#000"/>
<rect x="854.00" y="340.00" width="103.00" height="1.00" fill="#000"/>
<rect x="854.00" y="480.00" width="103.00" height="1.00" fill="#000"/>
<rect x="854.00" y="484.00" width="103.00" height="1.00" fill="#000"/>
<rect x="854.00" y="272.00" width="103.00" height="1.00" fill="#8c8c8c"/>
<rect x="854.00" y="275.00" width="103.00" height="1.00" fill="#8c8c8c"/>
<rect x="854.00" y="335.00" width="103.00" height="1.00" fill="#8c8c8c"/>
<rect x="854.00" y="341.00" width="103.00" height="1.00" fill="#8c8c8c"/>
<rect x="854.00" y="479.00" width="103.00" height="1.00" fill="#8c8c8c"/>
<rect x="854.00" y="485.00" width="103.00" height="1.00" fill="#8c8c8c"/>
<rect x="849.00" y="266.00" width="3.00" height="2.60" fill="#000"/>
<rect x="959.00" y="266.00" width="3.00" height="2.60" fill="#000"/>
<rect x="849.00" y="276.00" width="3.00" height="2.20" fill="#000"/>
<rect x="959.00" y="276.00" width="3.00" height="2.20" fill="#000"/>
<rect x="854.00" y="276.00" width="2.00" height="1.60" fill="#000"/>
<rect x="955.00" y="276.00" width="2.00" height="1.60" fill="#000"/>
<rect x="849.00" y="331.00" width="3.00" height="2.60" fill="#000"/>
<rect x="959.00" y="331.00" width="3.00" height="2.60" fill="#000"/>
<rect x="849.00" y="340.00" width="3.00" height="2.20" fill="#000"/>
<rect x="959.00" y="340.00" width="3.00" height="2.20" fill="#000"/>
<rect x="854.00" y="340.00" width="2.00" height="1.60" fill="#000"/>
<rect x="955.00" y="340.00" width="2.00" height="1.60" fill="#000"/>
<rect x="849.00" y="475.00" width="3.00" height="2.60" fill="#000"/>
<rect x="959.00" y="475.00" width="3.00" height="2.60" fill="#000"/>
<rect x="849.00" y="484.00" width="3.00" height="2.20" fill="#000"/>
<rect x="959.00" y="484.00" width="3.00" height="2.20" fill="#000"/>
<rect x="854.00" y="484.00" width="2.00" height="1.60" fill="#000"/>
<rect x="955.00" y="484.00" width="2.00" height="1.60" fill="#000"/>
<rect x="854.00" y="409.00" width="103.00" height="1.00" fill="#000"/>
<rect x="854.00" y="410.00" width="103.00" height="1.00" fill="#999"/>
<rect x="847.00" y="412.00" width="117.00" height="6.00" fill="#000"/>
<rect x="865.00" y="413.00" width="81.00" height="1.00" fill="#444"/>
<rect x="865.00" y="416.00" width="81.00" height="1.00" fill="#777"/>
<rect x="854.00" y="418.00" width="5.00" height="1.00" fill="#000"/>
<rect x="955.00" y="418.00" width="2.00" height="1.00" fill="#000"/>
<rect x="854.00" y="419.00" width="103.00" height="1.00" fill="#777"/>
<rect x="854.00" y="420.00" width="103.00" height="1.00" fill="#000"/>
<rect x="851" y="241" width="6.2" height="6" rx="1" fill="#000"/>
<rect x="954.8" y="241" width="5.2" height="6" rx="1" fill="#000"/>
<rect x="851" y="298" width="6.2" height="6" rx="1" fill="#000"/>
<rect x="954.8" y="298" width="5.2" height="6" rx="1" fill="#000"/>
<rect x="851" y="356" width="6.2" height="6" rx="1" fill="#000"/>
<rect x="954.8" y="356" width="5.2" height="6" rx="1" fill="#000"/>
<rect x="851" y="435" width="6.2" height="6" rx="1" fill="#000"/>
<rect x="954.8" y="435" width="5.2" height="6" rx="1" fill="#000"/>
<rect x="851" y="620.5" width="6.2" height="6" rx="1" fill="#000"/>
<rect x="954.8" y="620.5" width="5.2" height="6" rx="1" fill="#000"/>
<rect x="851" y="627" width="6.2" height="6" rx="1" fill="#000"/>
<rect x="954.8" y="627" width="5.2" height="6" rx="1" fill="#000"/>
<rect x="954.8" y="641" width="5.2" height="6" rx="1" fill="#000"/>
<rect x="852.00" y="174.00" width="1.00" height="10.00" fill="#c800d0"/>
<rect x="852.00" y="185.50" width="1.00" height="2.50" fill="#c800d0"/>
<rect x="854.00" y="174.00" width="3.00" height="14.00" fill="#c800d0"/>
<path d="M857,178 h1.2 a1.8,1.8 0 0 1 1.8,1.8 v2.4 a1.8,1.8 0 0 1 -1.8,1.8 h-1.2 z" fill="#c800d0"/>
<rect x="854.00" y="184.00" width="4.00" height="2.00" fill="#e00000"/>
<rect x="954.00" y="174.00" width="3.00" height="14.00" fill="#c800d0"/>
<path d="M954,178 h-0.6 a1.6,1.6 0 0 0 -1.6,1.6 v2.8 a1.6,1.6 0 0 0 1.6,1.6 h0.6 z" fill="#c800d0"/>
<rect x="954.00" y="184.00" width="3.00" height="2.00" fill="#e00000"/>
<rect x="855.50" y="182.30" width="5.5" height="19.8" fill="none" stroke="#c8c8c8" stroke-width="0.9"/>
<circle cx="854.50" cy="192.50" r="4.6" fill="none" stroke="#111" stroke-width="1.6"/>
<path d="M851.60,189.60 L857.40,195.40 M857.40,189.60 L851.60,195.40" stroke="#222" stroke-width="0.9"/>
<line x1="847.5" y1="192.5" x2="860" y2="192.5" stroke="#e00000" stroke-width="1.2" stroke-dasharray="1.6 1.4"/>
<line x1="854.5" y1="188.0" x2="854.5" y2="197.0" stroke="#b00000" stroke-width="1.0" stroke-dasharray="1.5 1.5"/>
<rect x="852.50" y="189.00" width="1.00" height="1.00" fill="#ddd"/>
<rect x="852.50" y="195.00" width="1.00" height="1.00" fill="#ddd"/>
<rect x="855.50" y="189.00" width="1.00" height="1.00" fill="#ddd"/>
<rect x="855.50" y="195.00" width="1.00" height="1.00" fill="#ddd"/>
<rect x="855.00" y="198.00" width="2.00" height="2.60" fill="#111"/>
<rect x="855.50" y="627.80" width="5.5" height="19.8" fill="none" stroke="#c8c8c8" stroke-width="0.9"/>
<circle cx="854.50" cy="638.00" r="4.6" fill="none" stroke="#111" stroke-width="1.6"/>
<path d="M851.60,635.10 L857.40,640.90 M857.40,635.10 L851.60,640.90" stroke="#222" stroke-width="0.9"/>
<line x1="847.5" y1="638.0" x2="860" y2="638.0" stroke="#e00000" stroke-width="1.2" stroke-dasharray="1.6 1.4"/>
<line x1="854.5" y1="633.5" x2="854.5" y2="642.5" stroke="#b00000" stroke-width="1.0" stroke-dasharray="1.5 1.5"/>
<rect x="852.50" y="634.50" width="1.00" height="1.00" fill="#ddd"/>
<rect x="852.50" y="640.50" width="1.00" height="1.00" fill="#ddd"/>
<rect x="855.50" y="634.50" width="1.00" height="1.00" fill="#ddd"/>
<rect x="855.50" y="640.50" width="1.00" height="1.00" fill="#ddd"/>
<rect x="855.00" y="643.50" width="2.00" height="2.60" fill="#111"/>
<rect x="855.40" y="384.50" width="5.6" height="20" fill="#f2f2f2" stroke="#c8c8c8" stroke-width="0.9"/>
<rect x="855.00" y="386.90" width="2.00" height="2.20" fill="#111"/>
<rect x="855.00" y="400.10" width="2.00" height="2.40" fill="#111"/>
<rect x="856.00" y="391.20" width="1.00" height="1.00" fill="#333"/>
<rect x="856.00" y="396.80" width="1.00" height="1.00" fill="#555"/>
<rect x="849.00" y="391.00" width="1.00" height="7.00" fill="#fff"/>
<rect x="851.00" y="391.00" width="1.00" height="7.00" fill="#e8e8e8"/>
<rect x="847.60" y="389.50" width="6.8" height="10" rx="3.2" fill="none" stroke="#111" stroke-width="1.3"/>
<line x1="848" y1="394.5" x2="859.5" y2="394.5" stroke="#d00000" stroke-width="1.2" stroke-dasharray="1.6 1.2"/>
<rect x="855.40" y="443.00" width="5.6" height="20" fill="#f2f2f2" stroke="#c8c8c8" stroke-width="0.9"/>
<rect x="855.00" y="445.40" width="2.00" height="2.20" fill="#111"/>
<rect x="855.00" y="458.60" width="2.00" height="2.40" fill="#111"/>
<rect x="856.00" y="449.70" width="1.00" height="1.00" fill="#333"/>
<rect x="856.00" y="455.30" width="1.00" height="1.00" fill="#555"/>
<rect x="849.00" y="449.50" width="1.00" height="7.00" fill="#fff"/>
<rect x="851.00" y="449.50" width="1.00" height="7.00" fill="#e8e8e8"/>
<rect x="847.60" y="448.00" width="6.8" height="10" rx="3.2" fill="none" stroke="#111" stroke-width="1.3"/>
<line x1="848" y1="453.0" x2="859.5" y2="453.0" stroke="#d00000" stroke-width="1.2" stroke-dasharray="1.6 1.2"/>
<path d="M880.80,392.30 h47.5 a2.2,2.2 0 0 1 0,4.4 h-47.5 z" fill="#8c8c8c" stroke="#707070" stroke-width="0.7"/>
<rect x="881.60" y="393.10" width="47" height="0.9" fill="#e0e0e0"/>
<rect x="881.60" y="395.00" width="47" height="0.9" fill="#e0e0e0"/>
<rect x="890.30" y="394.00" width="30" height="1" fill="#444"/>
<rect x="890.00" y="392.30" width="0.9" height="4.4" fill="#666"/>
<circle cx="924.20" cy="394.50" r="1.8" fill="#000"/>
<path d="M880.80,433.60 h47.5 a2.2,2.2 0 0 1 0,4.4 h-47.5 z" fill="#8c8c8c" stroke="#707070" stroke-width="0.7"/>
<rect x="881.60" y="434.40" width="47" height="0.9" fill="#e0e0e0"/>
<rect x="881.60" y="436.30" width="47" height="0.9" fill="#e0e0e0"/>
<rect x="890.30" y="435.30" width="30" height="1" fill="#444"/>
<rect x="890.00" y="433.60" width="0.9" height="4.4" fill="#666"/>
<circle cx="924.20" cy="435.80" r="1.8" fill="#000"/>
<line x1="891.20" y1="396.70" x2="891.20" y2="411.50" stroke="#111" stroke-width="1.0"/>
<line x1="883.30" y1="405.20" x2="899.50" y2="405.20" stroke="#444" stroke-width="1.1"/>
<line x1="856.30" y1="137.50" x2="955.30" y2="137.50" stroke="#137fc4" stroke-width="1.1"/>
<polygon points="856.30,136.95 856.30,138.05 868.30,140.20 868.30,134.80" fill="#137fc4"/>
<polygon points="955.30,136.95 955.30,138.05 943.30,140.20 943.30,134.80" fill="#137fc4"/>
<line x1="937.80" y1="136.50" x2="1011.30" y2="136.50" stroke="#137fc4" stroke-width="1.1"/>
<polygon points="955.30,135.95 955.30,137.05 943.30,139.20 943.30,133.80" fill="#137fc4"/>
<polygon points="963.50,135.95 963.50,137.05 975.50,139.20 975.50,133.80" fill="#137fc4"/>
<g transform="translate(892.20,134.25) scale(0.9100) skewX(-15)" fill="none" stroke="#111" stroke-width="1.1" stroke-linecap="round" stroke-linejoin="round"><path transform="translate(0.000,0)" d="M0.5,-10 H5.5 L2.2,-6.0 H3.3 A2.3,2.3 0 0 1 5.6,-3.7 V-2.3 A2.3,2.3 0 0 1 3.3,0 H2.1 A2.1,2.1 0 0 1 0,-1.6"/><path transform="translate(8.278,0)" d="M4.3,0 V-10 L0,-3.3 H5.6"/><path transform="translate(16.555,0)" d="M4.3,0 V-10 L0,-3.3 H5.6"/></g>
<g transform="translate(992.64,133.75) scale(0.9800) skewX(-15)" fill="none" stroke="#111" stroke-width="1.1" stroke-linecap="round" stroke-linejoin="round"><path transform="translate(0.000,0)" d="M0.1,-8.0 A2.3,2.3 0 0 1 2.4,-10 H3.3 A2.3,2.3 0 0 1 5.6,-7.7 V-7.0 A2.6,2.6 0 0 1 4.9,-5.4 L0,0 H5.6"/><path transform="translate(7.566,0)" d="M2.5,-5.4 H3.4000000000000004 A2.0,2.0 0 0 0 5.4,-7.4 V-8.0 A2.0,2.0 0 0 0 3.4000000000000004,-10 H2.5 A2.0,2.0 0 0 0 0.5,-8.0 V-7.4 A2.0,2.0 0 0 0 2.5,-5.4 Z M2.3,0 H3.6000000000000005 A2.3,2.3 0 0 0 5.9,-2.3 V-3.1000000000000005 A2.3,2.3 0 0 0 3.6000000000000005,-5.4 H2.3 A2.3,2.3 0 0 0 0,-3.1000000000000005 V-2.3 A2.3,2.3 0 0 0 2.3,0 Z"/></g>
<line x1="848.00" y1="668.00" x2="848.00" y2="705.50" stroke="#137fc4" stroke-width="1.1"/>
<line x1="963.50" y1="668.00" x2="963.50" y2="705.50" stroke="#137fc4" stroke-width="1.1"/>
<line x1="848.00" y1="698.50" x2="963.50" y2="698.50" stroke="#137fc4" stroke-width="1.1"/>
<polygon points="848.00,697.95 848.00,699.05 860.00,701.20 860.00,695.80" fill="#137fc4"/>
<polygon points="963.50,697.95 963.50,699.05 951.50,701.20 951.50,695.80" fill="#137fc4"/>
<g transform="translate(919.14,695.45) scale(0.9900) skewX(-15)" fill="none" stroke="#111" stroke-width="1.1" stroke-linecap="round" stroke-linejoin="round"><path transform="translate(0.000,0)" d="M4.3,0 V-10 L0,-3.3 H5.6"/><path transform="translate(7.690,0)" d="M1.9,0 H4.300000000000001 A1.9,1.9 0 0 0 6.2,-1.9 V-8.1 A1.9,1.9 0 0 0 4.300000000000001,-10 H1.9 A1.9,1.9 0 0 0 0,-8.1 V-1.9 A1.9,1.9 0 0 0 1.9,0 Z"/><path transform="translate(15.981,0)" d="M1.9,0 H4.300000000000001 A1.9,1.9 0 0 0 6.2,-1.9 V-8.1 A1.9,1.9 0 0 0 4.300000000000001,-10 H1.9 A1.9,1.9 0 0 0 0,-8.1 V-1.9 A1.9,1.9 0 0 0 1.9,0 Z"/></g>
<line x1="550.50" y1="28.70" x2="90.00" y2="185.00" stroke="#111" stroke-width="1.1"/>
<line x1="550.50" y1="28.70" x2="291.50" y2="184.50" stroke="#111" stroke-width="1.1"/>
<line x1="550.50" y1="28.70" x2="426.10" y2="173.80" stroke="#111" stroke-width="1.1"/>
<line x1="550.50" y1="28.70" x2="499.50" y2="163.50" stroke="#111" stroke-width="1.1"/>
<line x1="550.50" y1="28.70" x2="618.40" y2="163.50" stroke="#111" stroke-width="1.1"/>
<line x1="550.50" y1="28.70" x2="850.30" y2="177.30" stroke="#111" stroke-width="1.1"/>
<line x1="550.50" y1="28.70" x2="952.50" y2="179.30" stroke="#111" stroke-width="1.1"/>
<line x1="550.50" y1="28.20" x2="836.90" y2="28.20" stroke="#000" stroke-width="1.1"/>
<g transform="translate(537.71,24.95) scale(0.9200) skewX(-15)" fill="none" stroke="#111" stroke-width="1.1" stroke-linecap="round" stroke-linejoin="round"><path transform="translate(0.000,0)" d="M0,0 V-10 L3.3,-2.6 L6.6,-10 V0"/><path transform="translate(9.291,0)" d="M0.1,-3.6 H5.5 V-5 A2.2,2.2 0 0 0 3.3,-7.2 H2.2 A2.2,2.2 0 0 0 0,-5 V-2.2 A2.2,2.2 0 0 0 2.2,0 H5.1"/><path transform="translate(17.481,0)" d="M5.5,-5.4 A2.0,2.0 0 0 0 3.5,-7.2 H2.2 A2.2,2.2 0 0 0 0,-5 V-2.2 A2.2,2.2 0 0 0 2.2,0 H3.5 A2.0,2.0 0 0 0 5.5,-1.8"/><path transform="translate(25.672,0)" d="M0,-7.2 H5.5 M2.75,-7.2 V0"/><path transform="translate(33.862,0)" d="M5.5,-7.2 V0 M5.5,-2.2 A2.2,2.2 0 0 1 3.3,0 H2.2 A2.2,2.2 0 0 1 0,-2.2 V-5 A2.2,2.2 0 0 1 2.2,-7.2 H3.3 A2.2,2.2 0 0 1 5.5,-5"/></g>
<g transform="translate(588.91,24.95) scale(0.9200) skewX(-15)" fill="none" stroke="#111" stroke-width="1.1" stroke-linecap="round" stroke-linejoin="round"><path transform="translate(0.000,0)" d="M0,0 V-7.2 M0,-3.24 L5.5,-7.2 M1.82,-4.46 L5.5,0"/><path transform="translate(7.983,0)" d="M0,3.2 V-7.2 H3.3 A2.2,2.2 0 0 1 5.5,-5 V-2.2 A2.2,2.2 0 0 1 3.3,0 H0"/><path transform="translate(15.966,0)" d="M0.1,-3.6 H5.5 V-5 A2.2,2.2 0 0 0 3.3,-7.2 H2.2 A2.2,2.2 0 0 0 0,-5 V-2.2 A2.2,2.2 0 0 0 2.2,0 H5.1"/><path transform="translate(23.948,0)" d="M0,0 V-7.2 H3.3 A2.2,2.2 0 0 1 5.5,-5 V0"/><path transform="translate(31.931,0)" d="M0,0 H0.3 A1.5,1.5 0 0 0 1.8,-1.5 L2.0,-7.2 H5.5 V0"/><path transform="translate(39.914,0)" d="M0.1,-3.6 H5.5 V-5 A2.2,2.2 0 0 0 3.3,-7.2 H2.2 A2.2,2.2 0 0 0 0,-5 V-2.2 A2.2,2.2 0 0 0 2.2,0 H5.1"/><path transform="translate(47.897,0)" d="M0,0 V-7.2 M0,-3.6 H5.5 M5.5,-7.2 V0"/><path transform="translate(55.880,0)" d="M0,-7.2 V0 L5.5,-7.2 V0"/><path transform="translate(63.862,0)" d="M5.5,0 V-7.2 H2.2 A2.2,2.2 0 0 0 0,-5 V-4.8 A2.2,2.2 0 0 0 2.2,-3 H5.5 M2.4,-3 L0,0"/></g>
<g transform="translate(665.51,24.95) scale(0.9200) skewX(-15)" fill="none" stroke="#111" stroke-width="1.1" stroke-linecap="round" stroke-linejoin="round"><path transform="translate(0.000,0)" d="M0,0 V-7.2 M0,-3.24 L5.5,-7.2 M1.82,-4.46 L5.5,0"/></g>
<g transform="translate(683.71,24.95) scale(0.9200) skewX(-15)" fill="none" stroke="#111" stroke-width="1.1" stroke-linecap="round" stroke-linejoin="round"><path transform="translate(0.000,0)" d="M5.5,-5.4 A2.0,2.0 0 0 0 3.5,-7.2 H2.2 A2.2,2.2 0 0 0 0,-5 V-2.2 A2.2,2.2 0 0 0 2.2,0 H3.5 A2.0,2.0 0 0 0 5.5,-1.8"/><path transform="translate(7.650,0)" d="M0,-7.2 H5.5 M2.75,-7.2 V0"/><path transform="translate(15.301,0)" d="M0.1,-3.6 H5.5 V-5 A2.2,2.2 0 0 0 3.3,-7.2 H2.2 A2.2,2.2 0 0 0 0,-5 V-2.2 A2.2,2.2 0 0 0 2.2,0 H5.1"/><path transform="translate(22.951,0)" d="M0,0 V-7.2 M0,-3.6 H5.5 M5.5,-7.2 V0"/><path transform="translate(30.602,0)" d="M0.1,-3.6 H5.5 V-5 A2.2,2.2 0 0 0 3.3,-7.2 H2.2 A2.2,2.2 0 0 0 0,-5 V-2.2 A2.2,2.2 0 0 0 2.2,0 H5.1"/></g>
<line x1="964.00" y1="163.50" x2="1104.00" y2="163.50" stroke="#137fc4" stroke-width="1.1"/>
<line x1="964.00" y1="179.50" x2="1055.00" y2="179.50" stroke="#137fc4" stroke-width="1.1"/>
<line x1="964.00" y1="666.50" x2="1008.00" y2="666.50" stroke="#137fc4" stroke-width="1.1"/>
<line x1="1001.50" y1="163.60" x2="1001.50" y2="666.20" stroke="#137fc4" stroke-width="1.1"/>
<polygon points="1000.95,163.60 1002.05,163.60 1004.20,175.60 998.80,175.60" fill="#137fc4"/>
<polygon points="1000.95,666.20 1002.05,666.20 1004.20,654.20 998.80,654.20" fill="#137fc4"/>
<line x1="1048.50" y1="179.10" x2="1048.50" y2="739.30" stroke="#137fc4" stroke-width="1.1"/>
<polygon points="1047.95,179.10 1049.05,179.10 1051.20,191.10 1045.80,191.10" fill="#137fc4"/>
<polygon points="1047.95,739.30 1049.05,739.30 1051.20,727.30 1045.80,727.30" fill="#137fc4"/>
<line x1="1100.50" y1="163.60" x2="1100.50" y2="739.30" stroke="#137fc4" stroke-width="1.1"/>
<polygon points="1099.95,163.60 1101.05,163.60 1103.20,175.60 1097.80,175.60" fill="#137fc4"/>
<polygon points="1099.95,739.30 1101.05,739.30 1103.20,727.30 1097.80,727.30" fill="#137fc4"/>
<g transform="translate(993.60,413.50) rotate(-90)"><g transform="translate(-12.63,4.70) scale(0.9400) skewX(-15)" fill="none" stroke="#111" stroke-width="1.1" stroke-linecap="round" stroke-linejoin="round"><path transform="translate(0.000,0)" d="M1.6,0 V-10 L-0.2,-8.2"/><path transform="translate(3.800,0)" d="M0,-10 H5.2 L0.6,0"/><path transform="translate(11.200,0)" d="M4.3,0 V-10 L0,-3.3 H5.6"/><path transform="translate(19.000,0)" d="M0,-10 H5.2 L0.6,0"/></g></g>
<g transform="translate(1040.50,428.10) rotate(-90)"><g transform="translate(-12.76,4.95) scale(0.9900) skewX(-15)" fill="none" stroke="#111" stroke-width="1.1" stroke-linecap="round" stroke-linejoin="round"><path transform="translate(0.000,0)" d="M1.6,0 V-10 L-0.2,-8.2"/><path transform="translate(3.163,0)" d="M2.3,-4.6 H3.3 A2.3,2.3 0 0 0 5.6,-6.8999999999999995 V-7.7 A2.3,2.3 0 0 0 3.3,-10 H2.3 A2.3,2.3 0 0 0 0,-7.7 V-6.8999999999999995 A2.3,2.3 0 0 0 2.3,-4.6 Z M5.6,-7.0 V-2.3 A2.3,2.3 0 0 1 3.3,0 H0.4"/><path transform="translate(10.326,0)" d="M4.3,0 V-10 L0,-3.3 H5.6"/><path transform="translate(17.490,0)" d="M5.4,-10 H0.9 L0.5,-5.6 H3.3 A2.3,2.3 0 0 1 5.6,-3.3 V-2.3 A2.3,2.3 0 0 1 3.3,0 H2.1 A2.1,2.1 0 0 1 0,-1.6"/></g></g>
<g transform="translate(1092.40,435.40) rotate(-90)"><g transform="translate(-16.84,5.05) scale(1.0100) skewX(-15)" fill="none" stroke="#111" stroke-width="1.1" stroke-linecap="round" stroke-linejoin="round"><path transform="translate(0.000,0)" d="M0.1,-8.0 A2.3,2.3 0 0 1 2.4,-10 H3.3 A2.3,2.3 0 0 1 5.6,-7.7 V-7.0 A2.6,2.6 0 0 1 4.9,-5.4 L0,0 H5.6"/><path transform="translate(7.759,0)" d="M1.9,0 H4.300000000000001 A1.9,1.9 0 0 0 6.2,-1.9 V-8.1 A1.9,1.9 0 0 0 4.300000000000001,-10 H1.9 A1.9,1.9 0 0 0 0,-8.1 V-1.9 A1.9,1.9 0 0 0 1.9,0 Z"/><path transform="translate(16.118,0)" d="M1.9,0 H4.300000000000001 A1.9,1.9 0 0 0 6.2,-1.9 V-8.1 A1.9,1.9 0 0 0 4.300000000000001,-10 H1.9 A1.9,1.9 0 0 0 0,-8.1 V-1.9 A1.9,1.9 0 0 0 1.9,0 Z"/><path transform="translate(24.476,0)" d="M1.9,0 H4.300000000000001 A1.9,1.9 0 0 0 6.2,-1.9 V-8.1 A1.9,1.9 0 0 0 4.300000000000001,-10 H1.9 A1.9,1.9 0 0 0 0,-8.1 V-1.9 A1.9,1.9 0 0 0 1.9,0 Z"/></g></g>
</svg>
</body></html>
